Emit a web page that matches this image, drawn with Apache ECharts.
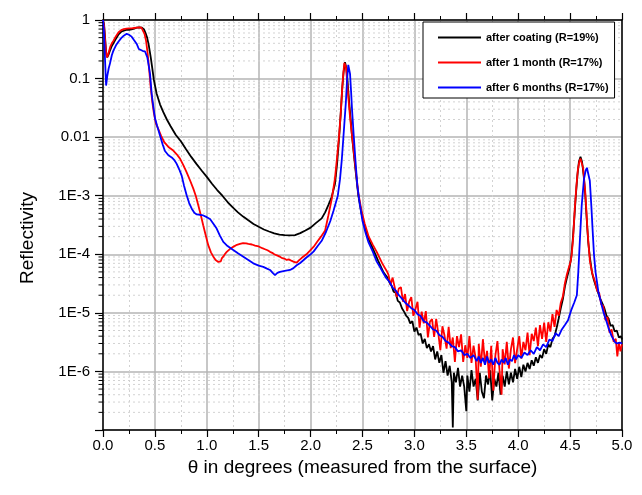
<!DOCTYPE html>
<html>
<head>
<meta charset="utf-8">
<script src="https://cdn.jsdelivr.net/npm/echarts@6/dist/echarts.min.js"></script>
<style>
html,body{margin:0;padding:0;background:#fff;}
#chart{width:642px;height:495px;}
</style>
</head>
<body>
<div id="chart"></div>
<script>
// ---- Data (theta in degrees, reflectivity) ----
const seriesNames = ['after coating (R=19%)', 'after 1 month (R=17%)', 'after 6 months (R=17%)'];
const seriesColors = ['#000000', '#ff0000', '#0000ff'];
const yTickLabels = ['1', '0.1', '0.01', '1E-3', '1E-4', '1E-5', '1E-6', ''];
const xTitle = 'θ in degrees (measured from the surface)';
const yTitle = 'Reflectivity';

const afterCoating = [
[0.000,1.0],[0.010,0.85],[0.020,0.5],[0.030,0.28],[0.040,0.23],[0.055,0.26],[0.070,0.31],[0.085,0.36],[0.100,0.40],[0.125,0.48],
[0.150,0.57],[0.175,0.63],[0.200,0.66],[0.225,0.68],[0.250,0.68],[0.275,0.69],[0.300,0.71],[0.325,0.74],[0.350,0.75],[0.375,0.74],
[0.395,0.69],[0.410,0.60],[0.425,0.50],[0.440,0.38],[0.460,0.23],[0.475,0.15],[0.490,0.095],[0.517,0.055],[0.550,0.036],[0.580,0.027],
[0.615,0.020],[0.650,0.0155],[0.700,0.011],[0.750,0.0085],[0.800,0.0062],[0.850,0.0046],[0.900,0.0035],[0.950,0.0027],[1.000,0.0021],
[1.050,0.0016],[1.100,0.00125],[1.150,0.00100],[1.200,0.00078],[1.250,0.00063],[1.300,0.00052],[1.350,0.00044],[1.400,0.00038],
[1.450,0.00033],[1.500,0.000295],[1.550,0.000265],[1.600,0.000245],[1.650,0.000228],[1.700,0.000217],[1.750,0.000212],[1.800,0.000210],
[1.850,0.000213],[1.900,0.000230],[1.950,0.000255],[2.000,0.000285],[2.050,0.00034],[2.107,0.00041],[2.140,0.00052],[2.171,0.00069],
[2.203,0.00095],[2.235,0.0016],[2.255,0.0035],[2.275,0.010],[2.290,0.025],[2.305,0.07],[2.318,0.13],[2.331,0.19],[2.345,0.15],
[2.355,0.095],[2.370,0.042],[2.385,0.021],[2.400,0.010],[2.420,0.0045],[2.440,0.0021],[2.460,0.0010],[2.490,0.00050],[2.520,0.00030],
[2.560,0.00018],[2.600,0.000125],[2.650,0.000078],[2.700,0.000050],[2.740,0.000040],
[2.76,3.3e-5],[2.78,2.9e-5],[2.80,2.3e-5],[2.82,2.2e-5],[2.84,1.6e-5],[2.86,1.5e-5],[2.88,1.2e-5],[2.90,1.05e-5],[2.92,9.0e-6],[2.94,8.2e-6],
[2.96,6.6e-6],[2.98,7.2e-6],[3.00,4.8e-6],[3.02,5.6e-6],[3.04,4.2e-6],[3.06,4.4e-6],[3.08,3.0e-6],[3.10,3.6e-6],[3.12,2.5e-6],[3.14,2.9e-6],
[3.16,2.2e-6],[3.18,2.7e-6],[3.20,1.6e-6],[3.22,2.2e-6],[3.24,1.4e-6],[3.26,1.9e-6],[3.28,9.5e-7],[3.30,1.5e-6],[3.32,8.5e-7],[3.34,1.25e-6],
[3.36,6.5e-7],[3.37,1.1e-7],[3.38,9.5e-7],[3.40,6.5e-7],[3.42,1.15e-6],[3.44,5.5e-7],[3.46,8.5e-7],[3.48,5.5e-7],[3.50,2.1e-7],[3.51,8.5e-7],
[3.53,4.5e-7],[3.55,1.05e-6],[3.57,5.5e-7],[3.59,7.5e-7],[3.61,3.2e-7],[3.63,9.5e-7],[3.65,4.5e-7],[3.67,3.5e-7],[3.69,8.5e-7],[3.71,6.0e-7],
[3.73,1.05e-6],[3.75,3.2e-7],[3.77,7.5e-7],[3.79,5.5e-7],[3.81,9.5e-7],[3.83,4.0e-7],[3.85,8.5e-7],[3.87,5.5e-7],[3.89,1.0e-6],[3.91,6.0e-7],
[3.93,9.5e-7],[3.95,6.5e-7],[3.97,1.1e-6],[3.99,7.5e-7],[4.01,1.2e-6],[4.03,8.0e-7],[4.05,1.3e-6],[4.07,1.0e-6],[4.09,1.4e-6],[4.11,1.1e-6],
[4.13,1.55e-6],[4.15,1.25e-6],[4.17,1.75e-6],[4.19,1.4e-6],[4.21,1.9e-6],[4.23,1.7e-6],[4.25,2.4e-6],[4.27,2.0e-6],[4.29,2.9e-6],[4.31,2.6e-6],
[4.33,3.6e-6],[4.35,4.0e-6],[4.37,5.5e-6],[4.39,8.0e-6],[4.41,1.2e-5],[4.43,1.7e-5],[4.45,2.8e-5],[4.47,4.0e-5],[4.49,5.5e-5],[4.51,8.5e-5],
[4.525,1.7e-4],[4.54,4.0e-4],[4.555,1.0e-3],[4.57,2.2e-3],[4.585,3.8e-3],[4.600,4.6e-3],[4.615,3.8e-3],[4.630,2.3e-3],[4.645,1.1e-3],
[4.660,4.0e-4],[4.675,1.6e-4],[4.690,9.0e-5],[4.71,5.0e-5],[4.73,3.6e-5],[4.75,2.8e-5],[4.77,2.2e-5],[4.79,1.75e-5],[4.81,1.45e-5],
[4.83,1.2e-5],[4.85,9.0e-6],[4.87,8.0e-6],[4.89,6.0e-6],[4.91,6.2e-6],[4.93,4.8e-6],[4.95,5.0e-6],[4.97,3.8e-6],[4.99,4.0e-6],[5.00,3.5e-6]
];

const afterOneMonth = [
[0.000,1.0],[0.010,0.8],[0.020,0.45],[0.030,0.27],[0.040,0.23],[0.055,0.28],[0.070,0.35],[0.085,0.40],[0.100,0.44],[0.125,0.53],
[0.150,0.62],[0.175,0.67],[0.200,0.70],[0.225,0.71],[0.250,0.72],[0.275,0.72],[0.300,0.73],[0.325,0.74],[0.350,0.75],[0.370,0.74],
[0.385,0.69],[0.400,0.58],[0.415,0.44],[0.430,0.27],[0.445,0.14],[0.460,0.070],[0.475,0.040],[0.490,0.026],[0.510,0.017],[0.535,0.0135],
[0.560,0.0105],[0.590,0.0082],[0.630,0.0068],[0.677,0.0059],[0.710,0.0051],[0.742,0.0043],[0.775,0.0033],[0.806,0.0025],[0.840,0.0018],
[0.870,0.00132],[0.895,0.00098],[0.918,0.00069],[0.942,0.00047],[0.966,0.00031],[0.990,0.00021],[1.014,0.000143],[1.040,0.000108],
[1.063,0.000091],[1.085,0.000080],[1.100,0.000077],[1.111,0.000074],[1.122,0.000078],[1.135,0.000076],[1.144,0.000085],[1.160,0.000092],
[1.175,0.000101],[1.192,0.000110],[1.210,0.000116],[1.225,0.000124],[1.240,0.000129],[1.255,0.000134],[1.270,0.000137],[1.290,0.000145],
[1.305,0.000141],[1.320,0.000150],[1.335,0.000147],[1.350,0.000155],[1.365,0.000149],[1.380,0.000154],[1.400,0.000150],[1.416,0.000155],
[1.435,0.000147],[1.450,0.000146],[1.465,0.000141],[1.480,0.000140],[1.500,0.000136],[1.513,0.000134],[1.535,0.000127],[1.560,0.000122],
[1.585,0.000117],[1.609,0.000110],[1.630,0.000106],[1.650,0.000100],[1.675,0.000096],[1.705,0.000091],[1.725,0.000086],[1.750,0.000084],
[1.770,0.000080],[1.790,0.000082],[1.802,0.000078],[1.820,0.000077],[1.840,0.000074],[1.855,0.000076],[1.866,0.000072],[1.885,0.000078],
[1.900,0.000082],[1.915,0.000087],[1.930,0.000091],[1.960,0.000100],[1.994,0.000115],[2.030,0.000135],[2.060,0.000160],[2.100,0.000200],
[2.140,0.000255],[2.171,0.00046],[2.205,0.0009],[2.235,0.0020],[2.255,0.0045],[2.275,0.011],[2.290,0.025],[2.305,0.07],[2.315,0.12],
[2.325,0.185],[2.340,0.16],[2.350,0.10],[2.365,0.045],[2.380,0.022],[2.398,0.011],[2.420,0.0048],[2.440,0.0023],[2.460,0.0011],
[2.490,0.00056],[2.520,0.00034],[2.560,0.00020],[2.600,0.000145],[2.637,0.000110],[2.690,0.000070],[2.733,0.000052],
[2.75,4.5e-5],[2.77,3.0e-5],[2.79,4.0e-5],[2.81,2.75e-5],[2.83,1.86e-5],[2.85,2.6e-5],[2.87,2.75e-5],[2.89,1.55e-5],[2.91,2.1e-5],[2.93,1.07e-5],
[2.95,1.55e-5],[2.97,1.86e-5],[2.99,8.9e-6],[3.01,1.15e-5],[3.03,1.55e-5],[3.05,5.6e-6],[3.07,1.05e-5],[3.09,6.6e-6],[3.11,1.07e-5],[3.13,3.8e-6],
[3.15,7.1e-6],[3.17,7.8e-6],[3.19,3.9e-6],[3.21,7.9e-6],[3.23,4.5e-6],[3.25,2.3e-6],[3.27,5.9e-6],[3.29,4.1e-6],[3.31,2.45e-6],[3.33,5.75e-6],
[3.35,2.5e-6],[3.37,3.8e-6],[3.39,1.45e-6],[3.41,4.0e-6],[3.43,2.6e-6],[3.45,4.3e-6],[3.47,1.45e-6],[3.49,2.8e-6],[3.51,1.7e-6],[3.53,4.0e-6],
[3.55,1.4e-6],[3.57,2.75e-6],[3.59,1.7e-6],[3.61,3.3e-7],[3.62,2.95e-6],[3.64,1.2e-6],[3.66,3.55e-6],[3.68,1.38e-6],[3.70,2.25e-6],[3.72,7.6e-7],
[3.74,2.75e-6],[3.76,4.7e-7],[3.78,1.86e-6],[3.80,3.3e-6],[3.82,1.05e-6],[3.84,4.0e-7],[3.85,2.4e-6],[3.87,1.32e-6],[3.89,3.2e-6],[3.91,1.12e-6],
[3.93,2.4e-6],[3.95,3.8e-6],[3.97,1.38e-6],[3.99,2.4e-6],[4.01,4.0e-6],[4.03,1.66e-6],[4.05,3.2e-6],[4.07,2.3e-6],[4.09,4.6e-6],[4.11,1.9e-6],
[4.13,4.4e-6],[4.15,3.3e-6],[4.17,5.6e-6],[4.19,2.7e-6],[4.21,6.2e-6],[4.23,3.6e-6],[4.25,6.8e-6],[4.27,3.2e-6],[4.29,6.9e-6],[4.31,4.8e-6],
[4.33,9.5e-6],[4.35,5.75e-6],[4.37,1.12e-5],[4.39,8.9e-6],[4.41,1.48e-5],[4.43,1.9e-5],[4.45,3.2e-5],[4.47,4.6e-5],[4.49,6.1e-5],[4.505,7.5e-5],
[4.515,9.7e-5],[4.53,2.0e-4],[4.545,6.0e-4],[4.56,1.4e-3],[4.575,2.8e-3],[4.59,3.9e-3],[4.60,4.3e-3],[4.612,4.0e-3],[4.625,3.0e-3],
[4.644,1.3e-3],[4.656,6.0e-4],[4.666,2.8e-4],[4.68,1.3e-4],[4.692,7.4e-5],[4.715,4.6e-5],[4.74,3.4e-5],[4.76,2.4e-5],[4.78,2.2e-5],
[4.80,1.4e-5],[4.82,1.3e-5],[4.84,7.5e-6],[4.86,8.5e-6],[4.88,4.6e-6],[4.90,5.2e-6],[4.92,3.2e-6],[4.94,3.6e-6],[4.955,1.8e-6],[4.97,3.1e-6],
[4.985,2.2e-6],[5.00,2.9e-6]
];

const afterSixMonths = [
[0.000,1.0],[0.010,0.6],[0.020,0.2],[0.030,0.076],[0.041,0.11],[0.055,0.15],[0.067,0.18],[0.085,0.25],[0.100,0.30],[0.125,0.37],
[0.150,0.43],[0.175,0.49],[0.200,0.54],[0.228,0.58],[0.250,0.56],[0.276,0.52],[0.300,0.45],[0.325,0.39],[0.345,0.32],[0.360,0.30],
[0.385,0.295],[0.405,0.29],[0.427,0.23],[0.440,0.17],[0.453,0.12],[0.469,0.055],[0.485,0.033],[0.501,0.021],[0.520,0.016],[0.549,0.0107],
[0.575,0.0075],[0.597,0.0058],[0.630,0.0049],[0.662,0.0045],[0.690,0.0040],[0.710,0.0035],[0.735,0.0028],[0.758,0.0022],[0.780,0.0015],
[0.806,0.00102],[0.830,0.00075],[0.855,0.00060],[0.880,0.00051],[0.903,0.00048],[0.935,0.00047],[0.966,0.00046],[1.000,0.00043],
[1.031,0.00040],[1.060,0.00034],[1.095,0.000275],[1.125,0.00021],[1.159,0.000163],[1.200,0.000138],[1.255,0.000118],[1.300,0.000104],
[1.352,0.000091],[1.400,0.000080],[1.448,0.000070],[1.500,0.000064],[1.544,0.000061],[1.580,0.000057],[1.609,0.000054],[1.635,0.000048],
[1.657,0.000044],[1.680,0.000048],[1.705,0.000050],[1.750,0.000052],[1.802,0.000054],[1.835,0.000058],[1.866,0.000065],[1.900,0.000071],
[1.930,0.000079],[1.960,0.000088],[2.000,0.000100],[2.030,0.000112],[2.070,0.000140],[2.107,0.000170],[2.150,0.000245],[2.190,0.00037],
[2.220,0.00055],[2.245,0.00078],[2.262,0.00100],[2.283,0.0019],[2.300,0.0040],[2.315,0.0094],[2.328,0.020],[2.340,0.040],[2.352,0.10],
[2.363,0.171],[2.372,0.16],[2.380,0.12],[2.390,0.060],[2.400,0.028],[2.415,0.011],[2.430,0.0045],[2.450,0.0015],[2.470,0.00080],
[2.500,0.00037],[2.530,0.00023],[2.556,0.000163],[2.600,0.000110],[2.637,0.000075],[2.670,0.000060],[2.700,0.000048],[2.730,0.000039],
[2.76,3.4e-5],[2.79,2.7e-5],[2.82,2.4e-5],[2.85,2.0e-5],[2.88,1.75e-5],[2.91,1.5e-5],[2.94,1.35e-5],[2.97,1.2e-5],[3.00,1.12e-5],
[3.03,9.5e-6],[3.06,8.8e-6],[3.09,7.2e-6],[3.12,6.8e-6],[3.15,6.0e-6],[3.18,5.2e-6],[3.21,5.0e-6],[3.24,4.2e-6],[3.27,3.9e-6],[3.30,3.3e-6],
[3.33,3.1e-6],[3.36,2.7e-6],[3.39,2.6e-6],[3.42,2.2e-6],[3.45,2.3e-6],[3.48,1.9e-6],[3.51,2.0e-6],[3.54,1.7e-6],[3.57,1.9e-6],[3.60,1.5e-6],
[3.62,1.8e-6],[3.64,1.4e-6],[3.66,1.7e-6],[3.68,1.3e-6],[3.70,1.8e-6],[3.72,1.4e-6],[3.74,1.6e-6],[3.76,1.3e-6],[3.78,1.7e-6],[3.80,1.4e-6],
[3.82,1.3e-6],[3.84,1.6e-6],[3.86,1.4e-6],[3.88,1.7e-6],[3.90,1.3e-6],[3.92,1.6e-6],[3.94,1.5e-6],[3.96,1.9e-6],[3.98,1.6e-6],[4.00,1.9e-6],
[4.03,1.7e-6],[4.06,2.1e-6],[4.09,1.9e-6],[4.12,2.3e-6],[4.15,2.0e-6],[4.18,2.6e-6],[4.21,2.3e-6],[4.24,2.9e-6],[4.27,2.6e-6],[4.30,3.5e-6],
[4.33,3.3e-6],[4.36,4.5e-6],[4.39,4.0e-6],[4.42,5.2e-6],[4.45,6.2e-6],[4.48,7.5e-6],[4.51,1.1e-5],[4.54,1.5e-5],[4.565,2.0e-5],[4.579,5.0e-5],
[4.595,1.86e-4],[4.612,6.9e-4],[4.634,1.95e-3],[4.650,2.7e-3],[4.662,3.0e-3],[4.675,2.8e-3],[4.690,1.8e-3],[4.705,6.5e-4],[4.718,2.4e-4],
[4.730,1.0e-4],[4.745,5.0e-5],[4.772,2.3e-5],[4.80,1.45e-5],[4.82,1.05e-5],[4.85,7.2e-6],[4.87,5.5e-6],[4.90,4.0e-6],[4.93,3.2e-6],
[4.95,3.0e-6],[4.98,3.1e-6],[5.00,3.0e-6]
];

const seriesData = [afterCoating, afterOneMonth, afterSixMonths];

// ---- Chart ----
const FONT = "'Liberation Sans', Arial, sans-serif";
const chart = echarts.init(document.getElementById('chart'), null, {renderer: 'canvas'});
const GRID = {left: 103, right: 20, top: 20, bottom: 65};

const axisLineStyle = {color: '#000', width: 1.5};
const option = {
  animation: false,
  backgroundColor: '#fff',
  grid: Object.assign({containLabel: false}, GRID),
  legend: {
    orient: 'vertical',
    left: 423, top: 22,
    padding: [10, 6, 5, 15],
    itemGap: 14,
    itemWidth: 43, itemHeight: 2,
    icon: 'rect',
    backgroundColor: '#fff',
    borderColor: '#000', borderWidth: 1,
    textStyle: {fontFamily: FONT, fontSize: 11, fontWeight: 'bold', color: '#000'},
    data: seriesNames
  },
  xAxis: [{
    type: 'value', min: 0, max: 5, interval: 0.5,
    position: 'bottom',
    axisLine: {show: true, onZero: false, lineStyle: axisLineStyle},
    axisTick: {show: true, length: 7, lineStyle: {color: '#000', width: 1.2}},
    minorTick: {show: true, splitNumber: 2, length: 4, lineStyle: {color: '#000', width: 1}},
    axisLabel: {margin: 8, fontFamily: FONT, fontSize: 15, color: '#000', formatter: v => v.toFixed(1)},
    splitLine: {show: true, lineStyle: {color: '#b4b4b4', width: 1.5}},
    minorSplitLine: {show: true, lineStyle: {color: '#d2d2d2', width: 1, type: [2, 3]}},
    name: xTitle,
    nameLocation: 'middle', nameGap: 24,
    nameTextStyle: {fontFamily: FONT, fontSize: 19, color: '#000'}
  }, {
    type: 'value', min: 0, max: 5, interval: 0.5,
    position: 'top',
    axisLine: {show: true, onZero: false, lineStyle: axisLineStyle},
    axisTick: {show: true, length: 7, lineStyle: {color: '#000', width: 1.2}},
    minorTick: {show: true, splitNumber: 2, length: 4, lineStyle: {color: '#000', width: 1}},
    axisLabel: {show: false},
    splitLine: {show: false}
  }],
  yAxis: [{
    type: 'log', logBase: 10, min: 1e-7, max: 1, splitNumber: 7,
    position: 'left',
    axisLine: {show: true, onZero: false, lineStyle: axisLineStyle},
    axisTick: {show: true, length: 8, lineStyle: {color: '#000', width: 1.2}},
    axisLabel: {
      margin: 13, fontFamily: FONT, fontSize: 15, color: '#000',
      formatter: v => {
        const e = Math.round(-Math.log10(v));
        return (e >= 0 && e < yTickLabels.length) ? yTickLabels[e] : '';
      }
    },
    splitLine: {show: true, lineStyle: {color: '#b4b4b4', width: 1.5}}
  }, {
    type: 'log', logBase: 10, min: 1e-7, max: 1,
    position: 'right',
    axisLine: {show: true, onZero: false, lineStyle: axisLineStyle},
    axisTick: {show: false}, axisLabel: {show: false}, splitLine: {show: false}
  }],
  series: seriesData.map((d, i) => ({
    name: seriesNames[i],
    type: 'line',
    data: d,
    showSymbol: false,
    symbol: 'none',
    clip: true,
    lineStyle: {color: seriesColors[i], width: 1.8},
    itemStyle: {color: seriesColors[i]},
    z: 3 + i
  }))
};
chart.setOption(option);

// minor log grid lines & ticks (2..9 of each decade), positioned through the axis scale
const gfx = [];
const xL = chart.convertToPixel({xAxisIndex: 0}, 0);
const xR = chart.convertToPixel({xAxisIndex: 0}, 5);
const yTop = chart.convertToPixel({yAxisIndex: 0}, 1);
const yBot = chart.convertToPixel({yAxisIndex: 0}, 1e-7);
for (let d = -7; d < 0; d++) {
  for (let m = 2; m <= 9; m++) {
    const y = chart.convertToPixel({yAxisIndex: 0}, m * Math.pow(10, d));
    gfx.push({
      type: 'line', z: 0, silent: true,
      shape: {x1: xL, y1: y, x2: xR, y2: y},
      style: {stroke: '#d2d2d2', lineWidth: 1, lineDash: [2, 3]}
    });
    gfx.push({
      type: 'line', z: 10, silent: true,
      shape: {x1: xL - 4.5, y1: y, x2: xL, y2: y},
      style: {stroke: '#000', lineWidth: 1}
    });
  }
}
// y-axis title
gfx.push({
  type: 'text', z: 10, silent: true,
  x: 28, y: (yTop + yBot) / 2 + 13, rotation: Math.PI / 2,
  style: {text: yTitle, fontFamily: FONT, fontSize: 19, fill: '#000', align: 'center', verticalAlign: 'middle'}
});
chart.setOption({graphic: gfx});
</script>
</body>
</html>
